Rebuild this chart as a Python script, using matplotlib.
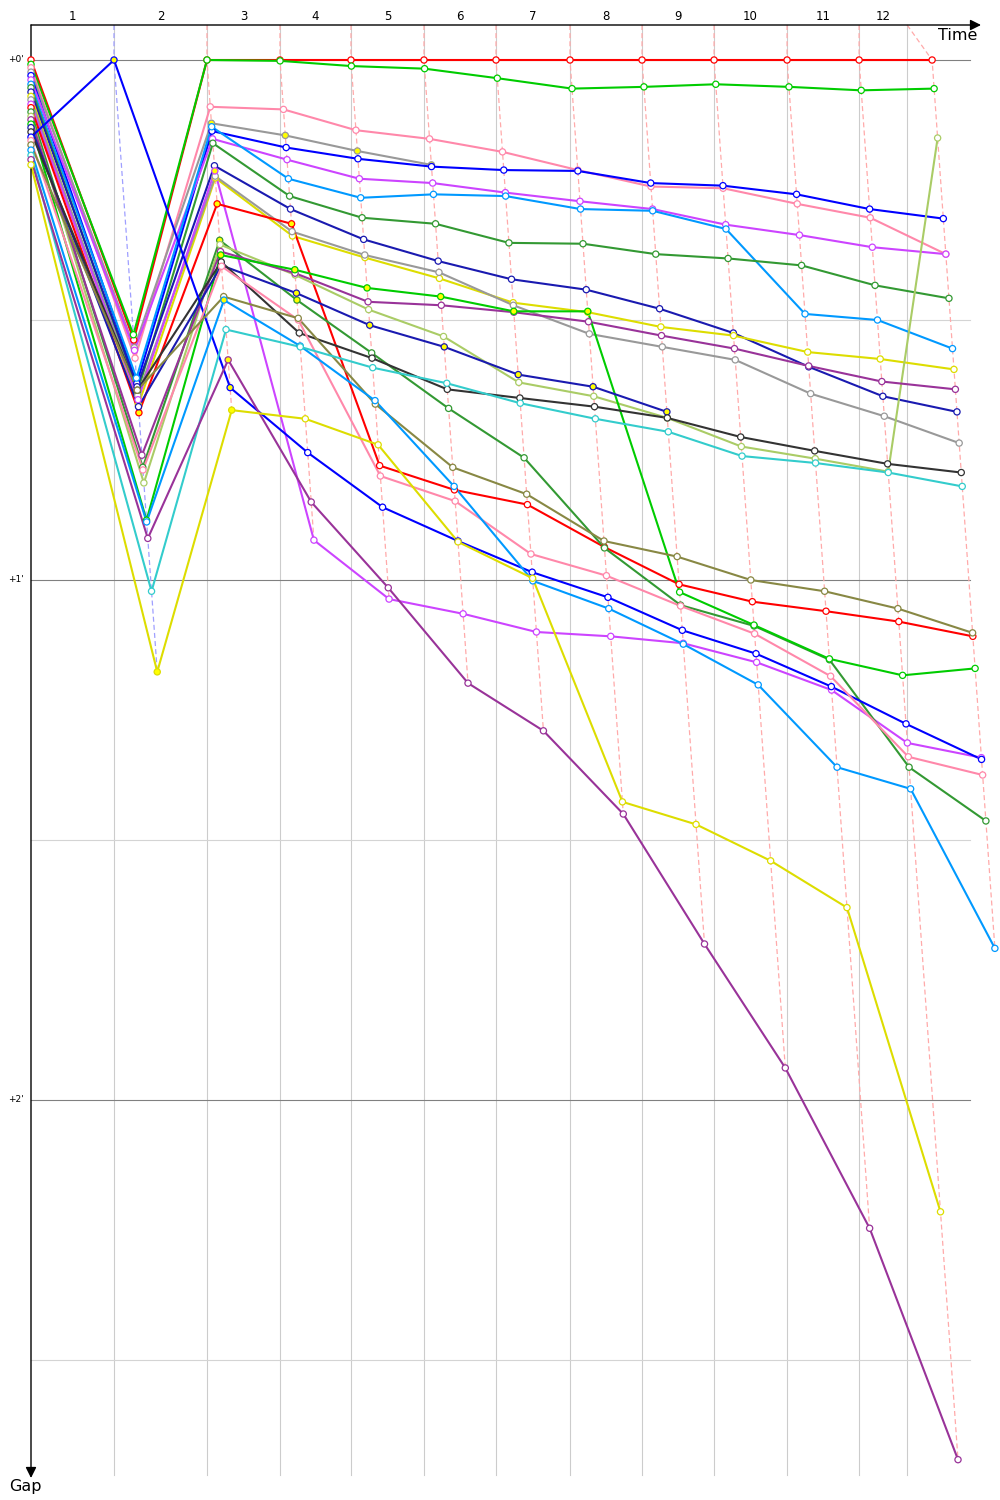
import matplotlib
matplotlib.use('Agg')
import matplotlib.pyplot as plt

# ---------------- data ----------------
lap_labels = [str(i) for i in range(1, 13)]
leader_lap_times = [135.5, 151.8, 119.2, 115.9, 119.2, 117.6, 120.8, 117.6, 117.6, 119.2, 117.6, 119.2]
time_limit = 1430.4
gap_ticks = [0, 60, 120]
gap_tick_labels = ["+0'", "+1'", "+2'"]
half_ticks = [30, 90, 150]

# gaps to leader (seconds) at start and each lap end
gap_red1 = [0, 32.3, 0, 0, 0, 0, 0, 0, 0, 0, 0, 0, 0]
gap_green1 = [0.5, 31.7, 0, 0.1, 0.7, 1.0, 2.1, 3.3, 3.1, 2.8, 3.1, 3.5, 3.3]
gap_pink1 = [0.9, 34.4, 5.4, 5.7, 8.1, 9.1, 10.6, 12.7, 14.6, 14.8, 16.6, 18.2, 22.4]
gap_grey_a = [1.4, 33.2, 7.3, 8.7, 10.5, 12.1]
gap_blue1 = [1.8, 37.3, 8.2, 10.1, 11.4, 12.3, 12.7, 12.8, 14.2, 14.5, 15.5, 17.2, 18.3]
gap_violet1 = [2.3, 33.5, 9.1, 11.5, 13.7, 14.2, 15.3, 16.3, 17.2, 19.0, 20.2, 21.6, 22.4]
gap_sky1 = [2.8, 36.7, 7.7, 13.7, 15.9, 15.5, 15.7, 17.2, 17.4, 19.5, 29.3, 30.0, 33.3]
gap_forest1 = [3.2, 38.3, 9.6, 15.7, 18.2, 18.9, 21.1, 21.2, 22.4, 22.9, 23.7, 26.0, 27.5]
gap_navy1 = [3.7, 37.7, 12.2, 17.2, 20.7, 23.2, 25.3, 26.5, 28.7, 31.5, 35.4, 38.8, 40.6]
gap_yellow1 = [4.2, 39.8, 13.6, 20.3, 22.8, 25.2, 28.0, 29.1, 30.8, 31.8, 33.7, 34.5, 35.7]
gap_grey1 = [4.6, 38.7, 13.4, 19.8, 22.5, 24.5, 28.3, 31.6, 33.1, 34.6, 38.5, 41.1, 44.2]
gap_violet2 = [5.1, 39.2, 12.8, 55.4, 62.2, 63.9, 66.0, 66.5, 67.3, 69.5, 72.7, 78.8, 80.5]
gap_red2 = [5.5, 40.7, 16.6, 18.9, 46.8, 49.6, 51.3, 56.2, 60.5, 62.5, 63.6, 64.8, 66.5]
gap_forest2 = [6.0, 47.0, 20.8, 27.7, 33.8, 40.2, 45.9, 56.3, 62.9, 65.3, 69.2, 81.6, 87.8]
gap_lime = [6.5, 48.8, 21.3, 24.8, 28.8, 31.9, 37.2, 38.8, 41.3, 44.6, 46.0, 47.5, 9.0]
gap_purple1 = [6.9, 45.6, 22.1, 24.6, 27.9, 28.3, 29.1, 30.2, 31.8, 33.3, 35.3, 37.1, 38.0]
gap_green2 = [7.4, 53.1, 22.5, 24.2, 26.3, 27.3, 29.0, 29.0, 61.4, 65.2, 69.1, 71.0, 70.2]
gap_navy2 = [7.8, 40.0, 23.7, 26.9, 30.6, 33.1, 36.3, 37.7, 40.6]
gap_black = [8.3, 38.1, 23.3, 31.5, 34.4, 38.0, 39.0, 40.0, 41.3, 43.5, 45.1, 46.6, 47.6]
gap_blue2 = [8.9, 0, 37.8, 45.3, 51.6, 55.5, 59.1, 62.0, 65.8, 68.5, 72.3, 76.6, 80.7]
gap_pink2 = [9.3, 47.3, 23.8, 30.0, 48.0, 50.9, 57.0, 59.5, 63.0, 66.2, 71.1, 80.4, 82.5]
gap_olive = [9.8, 38.1, 27.3, 29.8, 39.7, 47.0, 50.1, 55.5, 57.3, 60.0, 61.3, 63.3, 66.1]
gap_sky2 = [10.4, 53.3, 27.7, 33.0, 39.3, 49.2, 60.1, 63.3, 67.4, 72.1, 81.6, 84.1, 102.5]
gap_cyan = [11.0, 61.3, 31.1, 33.1, 35.5, 37.3, 39.6, 41.4, 42.9, 45.7, 46.5, 47.6, 49.2]
gap_purple2 = [11.5, 55.2, 34.6, 51.0, 60.9, 71.9, 77.4, 87.0, 102.0, 116.3, 134.8, 161.5]
gap_yellow2 = [12.1, 70.6, 40.4, 41.4, 44.4, 55.6, 59.8, 85.6, 88.2, 92.4, 97.8, 132.9]

# laps whose marker is filled yellow
yel_grey_a = [2, 3, 4, 5]
yel_red2 = [1, 2, 3]
yel_forest2 = [2, 3]
yel_green2 = [2, 3, 4, 5, 6, 7]
yel_navy2 = [2, 3, 4, 5, 6, 7, 8]
yel_blue2 = [1, 2]
yel_sky2 = [2]
yel_purple2 = [2]
yel_yellow2 = [1, 2]
yel_violet2 = [2]

drivers = [
    ('#ff0000', gap_red1, []),
    ('#00cc00', gap_green1, []),
    ('#ff88aa', gap_pink1, []),
    ('#999999', gap_grey_a, yel_grey_a),
    ('#0000ff', gap_blue1, []),
    ('#cc44ff', gap_violet1, []),
    ('#0099ff', gap_sky1, []),
    ('#339933', gap_forest1, []),
    ('#1a1ab0', gap_navy1, []),
    ('#dddd00', gap_yellow1, []),
    ('#999999', gap_grey1, []),
    ('#cc44ff', gap_violet2, yel_violet2),
    ('#ff0000', gap_red2, yel_red2),
    ('#339933', gap_forest2, yel_forest2),
    ('#aacc66', gap_lime, []),
    ('#993399', gap_purple1, []),
    ('#00cc00', gap_green2, yel_green2),
    ('#1a1ab0', gap_navy2, yel_navy2),
    ('#333333', gap_black, []),
    ('#0000ff', gap_blue2, yel_blue2),
    ('#ff88aa', gap_pink2, []),
    ('#888844', gap_olive, []),
    ('#0099ff', gap_sky2, yel_sky2),
    ('#33cccc', gap_cyan, []),
    ('#993399', gap_purple2, yel_purple2),
    ('#dddd00', gap_yellow2, yel_yellow2),
]

# ---------------- layout helpers ----------------
PXS_X = 0.6125   # px per second on time axis
PXS_Y = 520 / 60.0
def X(px):
    return (px - 31) / PXS_X
def Y(py):
    return (py - 60) / PXS_Y

leader_cum = [0.0]
for t in leader_lap_times:
    leader_cum.append(leader_cum[-1] + t)

def xpos(k, g):
    # start line: everyone at time zero; afterwards at leader time + gap
    return 0.0 if k == 0 else leader_cum[k] + g

fig = plt.figure(figsize=(10, 15), dpi=100)
ax = fig.add_axes([0, 0, 1, 1])
ax.set_xlim(X(0), X(1000))
ax.set_ylim(Y(1500), Y(0))
ax.axis('off')

# grid
bounds = leader_cum[1:12] + [time_limit]
for b in bounds:
    ax.plot([b, b], [Y(25), Y(1475)], color='#cccccc', lw=0.8, zorder=0)
for g in half_ticks:
    ax.plot([X(31), X(970)], [g, g], color='#d4d4d4', lw=0.8, zorder=0)
for g, lab in zip(gap_ticks, gap_tick_labels):
    ax.plot([X(31), X(970)], [g, g], color='#808080', lw=0.8, zorder=0.5)
    ax.text(X(24), g, lab, ha='right', va='center', fontsize=6.5, color='black')

# lap labels
edges = [0.0] + bounds
for i, lab in enumerate(lap_labels):
    ax.text((edges[i] + edges[i + 1]) / 2, Y(17), lab, ha='center', va='center', fontsize=8.5)

# axes arrows
ax.annotate('', xy=(X(981), Y(25)), xytext=(X(31), Y(25)),
            arrowprops=dict(arrowstyle='-|>', color='black', lw=1.0, mutation_scale=16, shrinkA=0, shrinkB=0))
ax.annotate('', xy=(X(31), Y(1478)), xytext=(X(31), Y(25)),
            arrowprops=dict(arrowstyle='-|>', color='black', lw=1.0, mutation_scale=16, shrinkA=0, shrinkB=0))
ax.text(X(977), Y(36), 'Time', ha='right', va='center', fontsize=11.5)
ax.text(X(25), Y(1486), 'Gap', ha='center', va='center', fontsize=11.5)

# lap-completion dashed lines
nlaps = len(leader_cum)
for k in range(1, nlaps):
    pts = sorted(gaps[k] for _, gaps, _ in drivers if len(gaps) > k)
    start = bounds[k - 1] if k - 1 < len(bounds) else time_limit
    xs = [start] + [leader_cum[k] + g for g in pts]
    ys = [Y(25)] + pts
    col = '#9f9fff' if k == 1 else '#ffaaaa'
    ax.plot(xs, ys, color=col, lw=0.9, ls=(0, (4, 2.5)), zorder=1)

# driver lines
for z, (col, gaps, yel) in enumerate(drivers):
    xs = [xpos(k, g) for k, g in enumerate(gaps)]
    ax.plot(xs, gaps, color=col, lw=1.5, zorder=2 + z * 0.01, solid_joinstyle='round')
    fcs = ['#ffff00' if k in yel else 'white' for k in range(len(gaps))]
    ax.scatter(xs, gaps, s=20, facecolors=fcs, edgecolors=col, linewidths=0.9, zorder=3 + z * 0.01)

fig.savefig('out.png', dpi=100)
